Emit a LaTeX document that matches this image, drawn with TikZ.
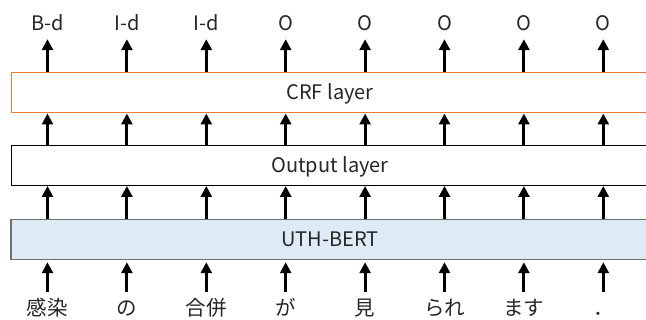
\documentclass[tikz,border=0pt]{standalone}
\usepackage{fontspec}
\setmainfont{Noto Sans CJK JP}
\usetikzlibrary{arrows.meta}
\definecolor{crf}{HTML}{ED7D31}
\definecolor{bertfill}{HTML}{DEEBF7}
\definecolor{bertdraw}{HTML}{6E6E6E}
\definecolor{txt}{HTML}{262626}
\begin{document}
\begin{tikzpicture}[x=1pt,y=-1pt,
  layerbox/.style={minimum height=40pt, minimum width=638pt, inner sep=0pt,
    text height=14pt, text depth=0pt, font=\fontsize{20}{24}\selectfont, text=txt},
  arr/.style={line width=3pt, -{Triangle[width=11pt,length=11pt]}},
  toplbl/.style={anchor=base, inner sep=0pt, text height=14pt, text depth=0pt,
    font=\fontsize{20}{24}\selectfont, text=txt},
  botlbl/.style={anchor=base, inner sep=0pt, text height=16pt, text depth=0pt,
    font=\fontsize{20.5}{24}\selectfont, text=txt}]
\useasboundingbox (0,0) rectangle (646,320);
\node[layerbox, draw=crf, line width=1pt] (crf) at (330,93) {CRF layer};
\node[layerbox, draw=black, line width=1pt] (out) at (330,165.5) {Output layer};
\node[layerbox, draw=bertdraw, fill=bertfill, line width=1.5pt] (bert) at (330,239.5) {UTH-BERT};
\foreach \i/\t/\w in {0/B-d/感染, 1/I-d/の, 2/I-d/合併, 3/O/が, 4/O/見, 5/O/られ, 6/O/ます, 7/O/．}{
  \pgfmathsetmacro{\cx}{47.5+79.4*\i}
  \node[toplbl] (t\i) at (\cx,30.5) {\t};
  \node[botlbl] (w\i) at (\cx,316) {\w};
  \draw[arr, shorten >=8.5pt] (crf.north -| t\i) -- (t\i.south);
  \draw[arr] (out.north -| t\i) -- (crf.south -| t\i);
  \draw[arr] (bert.north -| t\i) -- (out.south -| t\i);
  \draw[arr, shorten <=8pt, shorten >=2pt] (w\i.north) -- (bert.south -| w\i);
}
\end{tikzpicture}
\end{document}
